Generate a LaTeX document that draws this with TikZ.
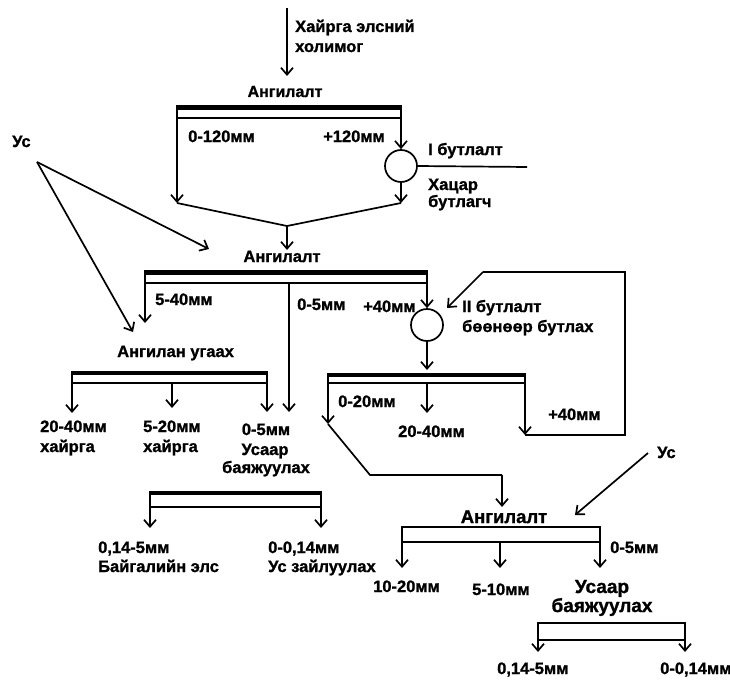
\documentclass[tikz,border=0pt]{standalone}
\usepackage{fontspec}
\setmainfont{Liberation Sans}[BoldFeatures={FakeBold=1.2}]
\usetikzlibrary{arrows.meta}
\begin{document}
\begin{tikzpicture}[x=1pt,y=-1pt,
  ln/.style={line width=1.7pt},
  flow/.style={ln,-{Straight Barb[length=7pt,width=12pt]}},
  sbar/.style={line width=#1},
  lbl/.style={inner sep=0pt,anchor=base west,font=\fontsize{16.5}{19}\selectfont\bfseries},
  clbl/.style={lbl,anchor=base},
  head/.style={clbl,font=\fontsize{16}{19}\selectfont\bfseries},
  headw/.style={lbl,font=\fontsize{16.5}{20}\selectfont\bfseries},
  big/.style={clbl,font=\fontsize{19}{23}\selectfont\bfseries},
  mill/.style={circle,draw,ln,minimum size=32pt,inner sep=0pt}]
\useasboundingbox (0,0) rectangle (730,682);

% ---------- feed ----------
\node[headw] (feed1) at (295,32) {Хайрга элсний};
\node[headw] (feed2) at (295,52) {холимог};
\coordinate (feedtop) at (287,8);
\coordinate (A-in) at (287,76);
\draw[flow] (feedtop) -- (A-in);

% ---------- screen A ----------
\node[head] (A) at (285,97) {Ангилалт};
\coordinate (A-tl) at (177,108);
\coordinate (A-tr) at (401,108);
\coordinate (A-bl) at (177,118);
\coordinate (A-br) at (401,118);
\draw[sbar=5pt] ([xshift=-0.85pt]A-tl) -- ([xshift=0.85pt]A-tr);
\draw[ln] (A-bl) -- (A-br);
\node[lbl] (A-fine) at (188,142) {0-120мм};
\node[lbl] (A-over) at (323,142) {+120мм};
\node[mill] (C1) at (401,166) {};
\coordinate (A-lo) at (177,203);
\draw[flow] (A-tl) -- (A-lo);
\draw[flow] (A-tr) -- (C1.north);
\coordinate (C1-e) at (527,167);
\draw[ln] (C1.east) -- (C1-e);
\node[lbl] (C1-t1) at (428,155) {I бутлалт};
\node[lbl] (C1-t2) at (428,190) {Хацар};
\node[lbl] (C1-t3) at (428,207) {бутлагч};
\coordinate (C1-o) at (401,203);
\coordinate (J1) at (287,226);
\coordinate (B-in) at (287,250);
\draw[flow] (C1.south) -- (C1-o);
\draw[ln] (A-lo) -- (J1) -- (C1-o);
\draw[flow] (J1) -- (B-in);

% ---------- water, left ----------
\node[lbl] (W1) at (12,147) {Ус};
\coordinate (W1-o) at (37,162);
\coordinate (W1-a) at (209,249);
\coordinate (W1-b) at (133,332);
\draw[flow] (W1-o) -- (W1-a);
\draw[flow] (W1-o) -- (W1-b);

% ---------- screen B ----------
\node[head,font=\fontsize{16.5}{19}\selectfont\bfseries] (B) at (282,262) {Ангилалт};
\coordinate (B-tl) at (145,272);
\coordinate (B-tr) at (427,272);
\coordinate (B-bl) at (145,283);
\coordinate (B-br) at (427,283);
\coordinate (B-bm) at (289,283);
\draw[sbar=5pt] ([xshift=-0.85pt]B-tl) -- ([xshift=0.85pt]B-tr);
\draw[ln] (B-bl) -- (B-br);
\coordinate (B-lo) at (145,323);
\coordinate (B-mo) at (289,412);
\draw[flow] (B-tl) -- (B-lo);
\draw[flow] (B-bm) -- (B-mo);
\node[mill] (C2) at (427,325) {};
\draw[flow] (B-tr) -- (C2.north);
\node[lbl] (B-l1) at (155,305) {5-40мм};
\node[lbl] (B-l2) at (297,310) {0-5мм};
\node[lbl] (B-l3) at (363,312) {+40мм};
\node[lbl] (C2-t1) at (462,312) {II бутлалт};
\node[lbl] (C2-t2) at (462,332) {бөөнөөр бутлах};
\coordinate (C-in) at (427,370);
\draw[flow] (C2.south) -- (C-in);

% ---------- washing screen ----------
\node[lbl] (F) at (117,357) {Ангилан угаах};
\coordinate (F-tl) at (72,373);
\coordinate (F-tr) at (267,373);
\coordinate (F-bl) at (72,383);
\coordinate (F-br) at (267,383);
\coordinate (F-bm) at (172,383);
\draw[sbar=3.3pt] ([xshift=-0.85pt]F-tl) -- ([xshift=0.85pt]F-tr);
\draw[ln] (F-bl) -- (F-br);
\coordinate (F-lo) at (72,413);
\coordinate (F-mo) at (172,408);
\coordinate (F-ro) at (267,412);
\draw[flow] (F-tl) -- (F-lo);
\draw[flow] (F-bm) -- (F-mo);
\draw[flow] (F-tr) -- (F-ro);
\node[lbl] (F-a1) at (40,432) {20-40мм};
\node[lbl] (F-a2) at (40,452) {хайрга};
\node[lbl] (F-b1) at (143,432) {5-20мм};
\node[lbl] (F-b2) at (143,452) {хайрга};
\node[clbl] (F-c1) at (266,435) {0-5мм};
\node[clbl] (F-c2) at (265,455) {Усаар};
\node[clbl] (F-c3) at (266,473) {баяжуулах};

% ---------- screen G ----------
\coordinate (G-tl) at (150,493);
\coordinate (G-tr) at (321,493);
\coordinate (G-bl) at (150,507);
\coordinate (G-br) at (321,507);
\draw[sbar=3.3pt] ([xshift=-0.85pt]G-tl) -- ([xshift=0.85pt]G-tr);
\draw[ln] (G-bl) -- (G-br);
\coordinate (G-lo) at (150,528);
\coordinate (G-ro) at (321,528);
\draw[flow] (G-tl) -- (G-lo);
\draw[flow] (G-tr) -- (G-ro);
\node[lbl] (G-a1) at (98,553) {0,14-5мм};
\node[lbl] (G-a2) at (98,572) {Байгалийн элс};
\node[lbl] (G-b1) at (268,553) {0-0,14мм};
\node[lbl] (G-b2) at (268,572) {Ус зайлуулах};

% ---------- screen C ----------
\coordinate (C-tl) at (328,375);
\coordinate (C-tr) at (525,375);
\coordinate (C-bl) at (328,383);
\coordinate (C-br) at (525,383);
\coordinate (C-bm) at (427,383);
\draw[sbar=3.3pt] ([xshift=-0.85pt]C-tl) -- ([xshift=0.85pt]C-tr);
\draw[ln] (C-bl) -- (C-br);
\coordinate (C-lo) at (328,424);
\coordinate (C-mo) at (427,413);
\coordinate (C-ro) at (525,435);
\draw[flow] (C-tl) -- (C-lo);
\draw[flow] (C-bm) -- (C-mo);
\draw[flow] (C-tr) -- (C-ro);
\node[lbl] (C-l1) at (338,407) {0-20мм};
\node[lbl] (C-l2) at (398,437) {20-40мм};
\node[lbl] (C-l3) at (548,420) {+40мм};
% oversize back to the crusher
\coordinate (R1) at (625,435);
\coordinate (R2) at (625,272);
\coordinate (R3) at (483,272);
\coordinate (R4) at (447,308);
\draw[ln] (C-ro) -- (R1) -- (R2) -- (R3);
\draw[flow] (R3) -- (R4);
% fines to screen D
\coordinate (K1) at (370,475);
\coordinate (K2) at (502,475);
\coordinate (D-in) at (502,507);
\draw[ln] (C-lo) -- (K1) -- (K2);
\draw[flow] (K2) -- (D-in);

% ---------- water, right ----------
\node[lbl] (W2) at (657,458) {Ус};
\coordinate (W2-o) at (648,453);
\coordinate (W2-a) at (575,515);
\draw[flow] (W2-o) -- (W2-a);

% ---------- screen D ----------
\node[head,font=\fontsize{18.5}{22}\selectfont\bfseries] (D) at (504,523) {Ангилалт};
\coordinate (D-tl) at (402,527);
\coordinate (D-tr) at (600,527);
\coordinate (D-bl) at (402,542);
\coordinate (D-br) at (600,542);
\coordinate (D-bm) at (500,542);
\draw[sbar=2.6pt] ([xshift=-0.85pt]D-tl) -- ([xshift=0.85pt]D-tr);
\draw[ln] (D-bl) -- (D-br);
\coordinate (D-lo) at (402,568);
\coordinate (D-mo) at (500,568);
\coordinate (D-ro) at (600,568);
\draw[flow] (D-tl) -- (D-lo);
\draw[flow] (D-bm) -- (D-mo);
\draw[flow] (D-tr) -- (D-ro);
\node[lbl] (D-l1) at (373,592) {10-20мм};
\node[lbl] (D-l2) at (472,595) {5-10мм};
\node[lbl] (D-l3) at (610,553) {0-5мм};
\node[big] (D-t1) at (602,593) {Усаар};
\node[big] (D-t2) at (602,612) {баяжуулах};

% ---------- screen E ----------
\coordinate (E-tl) at (538,623);
\coordinate (E-tr) at (685,623);
\coordinate (E-bl) at (538,640);
\coordinate (E-br) at (685,640);
\draw[sbar=2.8pt] ([xshift=-0.85pt]E-tl) -- ([xshift=0.85pt]E-tr);
\draw[ln] (E-bl) -- (E-br);
\coordinate (E-lo) at (538,652);
\coordinate (E-ro) at (685,652);
\draw[flow] (E-tl) -- (E-lo);
\draw[flow] (E-tr) -- (E-ro);
\node[lbl] (E-l1) at (497,674) {0,14-5мм};
\node[lbl] (E-l2) at (660,674) {0-0,14мм};
\end{tikzpicture}
\end{document}
